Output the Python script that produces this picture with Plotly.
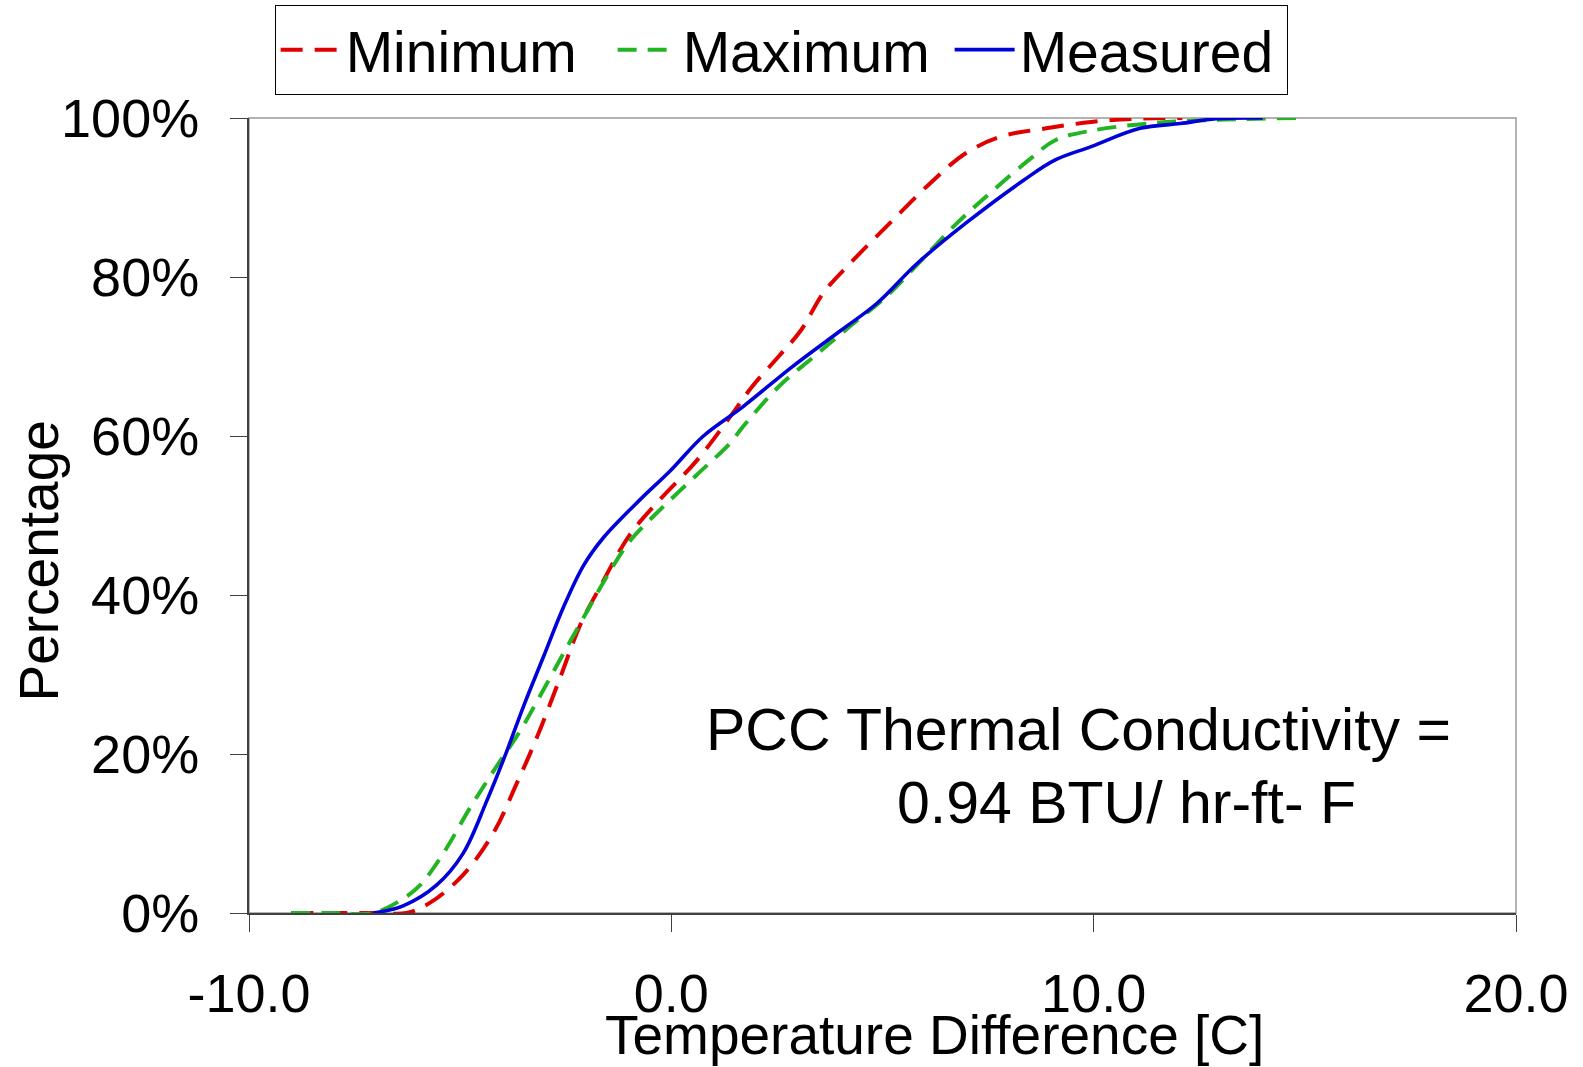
import plotly.graph_objects as go

# ---- data ----
min_x = [-9.0, -8.0, -7.0, -6.27, -5.71, -4.93, -4.21, -3.66, -3.19, -2.64, -2.16, -1.69, -0.98, -0.27, 0.60, 1.39, 1.91, 2.54, 3.07, 3.60, 4.23, 5.18, 6.13, 6.98, 7.83, 8.88, 9.94, 11.0, 12.1]
min_y = [0.0, 0.0, 0.0, 0.0, 0.013, 0.048, 0.101, 0.163, 0.220, 0.295, 0.362, 0.410, 0.476, 0.520, 0.569, 0.624, 0.662, 0.700, 0.733, 0.780, 0.817, 0.868, 0.918, 0.956, 0.977, 0.987, 0.995, 0.999, 1.0]

max_x = [-9.0, -8.0, -7.06, -6.35, -5.95, -5.40, -4.77, -4.13, -3.58, -3.11, -2.56, -2.00, -1.53, -0.98, -0.27, 0.60, 1.39, 1.70, 2.54, 3.38, 4.23, 5.08, 5.92, 6.77, 7.62, 8.46, 9.09, 9.94, 11.5, 13.1, 14.8]
max_y = [0.0, 0.0, 0.0, 0.018, 0.035, 0.075, 0.132, 0.185, 0.229, 0.273, 0.326, 0.379, 0.423, 0.468, 0.507, 0.551, 0.591, 0.612, 0.662, 0.700, 0.738, 0.775, 0.821, 0.868, 0.909, 0.947, 0.972, 0.984, 0.994, 0.998, 1.0]

meas_x = [-7.06, -6.35, -5.56, -4.93, -4.37, -3.90, -3.50, -3.03, -2.56, -2.08, -1.61, -0.74, -0.03, 0.76, 1.70, 2.86, 4.02, 4.87, 5.82, 6.98, 8.35, 9.08, 9.94, 11.10, 12.05, 12.9, 14.0]
meas_y = [0.0, 0.009, 0.035, 0.075, 0.141, 0.203, 0.260, 0.322, 0.384, 0.437, 0.472, 0.520, 0.556, 0.600, 0.637, 0.687, 0.733, 0.767, 0.817, 0.868, 0.922, 0.947, 0.964, 0.987, 0.993, 0.999, 1.0]

x_tickvals = [-10, 0, 10, 20]
x_ticktext = ["-10.0", "0.0", "10.0", "20.0"]
y_tickvals = [0, 0.2, 0.4, 0.6, 0.8, 1.0]
y_ticktext = ["0%", "20%", "40%", "60%", "80%", "100%"]

FONT = "Liberation Sans, Arial, sans-serif"

fig = go.Figure()
fig.add_trace(go.Scatter(x=min_x, y=min_y, mode="lines", name="Minimum",
                         line=dict(color="#e00000", width=4, dash="22px,12px", shape="spline", smoothing=1.0)))
fig.add_trace(go.Scatter(x=max_x, y=max_y, mode="lines", name="Maximum",
                         line=dict(color="#22b422", width=4, dash="19px,11px", shape="spline", smoothing=1.0)))
fig.add_trace(go.Scatter(x=meas_x, y=meas_y, mode="lines", name="Measured",
                         line=dict(color="#0000d8", width=3.6, shape="spline", smoothing=1.0)))

fig.update_layout(
    width=1583, height=1067,
    margin=dict(l=249, r=67, t=118, b=154, autoexpand=False),
    paper_bgcolor="white", plot_bgcolor="white",
    font=dict(family=FONT, size=54, color="black"),
    showlegend=True,
    legend=dict(orientation="h", xref="paper", yref="paper", x=0.42, xanchor="center",
                y=1.142, yanchor="top", bordercolor="black", borderwidth=1,
                font=dict(size=57), itemwidth=60, entrywidth=262, entrywidthmode="pixels",
                tracegroupgap=0, bgcolor="white"),
)

fig.update_xaxes(range=[-10, 20], tickvals=x_tickvals, ticktext=x_ticktext,
                 showgrid=False, zeroline=False, showline=True, linecolor="#404040", linewidth=2,
                 ticks="outside", ticklen=17, tickcolor="#404040", tickwidth=1,
                 ticklabelstandoff=15, tickfont=dict(size=54))
fig.update_yaxes(range=[0, 1], tickvals=y_tickvals, ticktext=y_ticktext,
                 showgrid=False, zeroline=False, showline=True, linecolor="#404040", linewidth=2,
                 ticks="outside", ticklen=17, tickcolor="#404040", tickwidth=1,
                 ticklabelstandoff=20, tickfont=dict(size=54))

fig.add_shape(type="rect", xref="paper", yref="paper", x0=0, y0=0, x1=1, y1=1,
              line=dict(color="#999999", width=1.5), layer="below")

fig.add_annotation(text="Percentage", textangle=-90, xref="paper", yref="paper",
                   x=-0.166, y=0.443, showarrow=False, font=dict(size=55),
                   xanchor="center", yanchor="middle")
fig.add_annotation(text="Temperature Difference [C]", xref="paper", yref="paper",
                   x=0.541, y=-0.153, showarrow=False, font=dict(size=55),
                   xanchor="center", yanchor="middle")
fig.add_annotation(text="PCC Thermal Conductivity =", xref="paper", yref="paper",
                   x=0.359, y=0.230, showarrow=False, font=dict(size=59),
                   xanchor="left", yanchor="middle")
fig.add_annotation(text="0.94 BTU/ hr-ft- F", xref="paper", yref="paper",
                   x=0.510, y=0.138, showarrow=False, font=dict(size=59),
                   xanchor="left", yanchor="middle")

fig.write_html("out.html")
